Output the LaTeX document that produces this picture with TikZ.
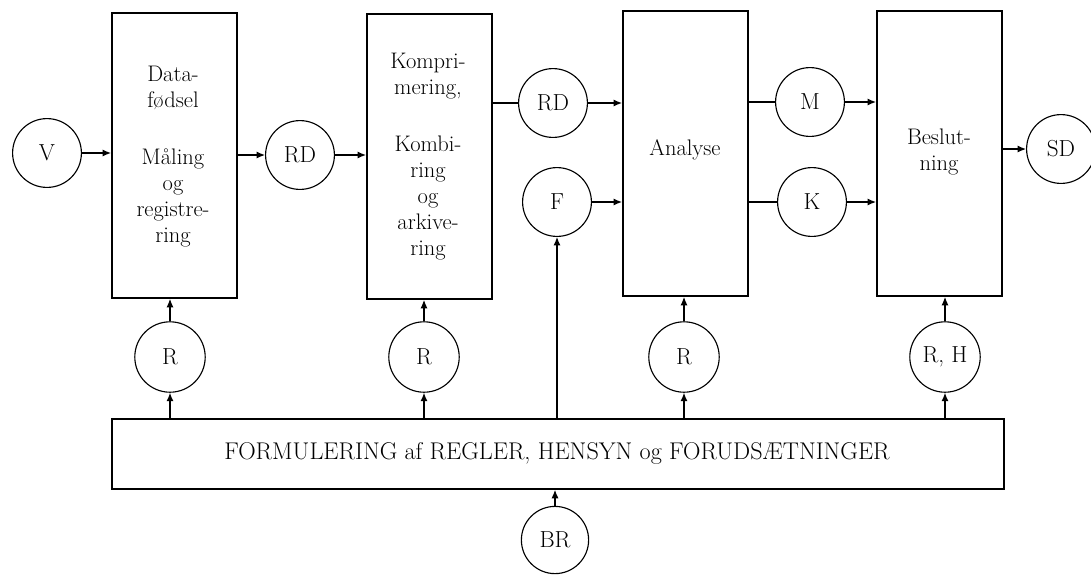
\documentclass[tikz,border=0pt]{standalone}
\usepackage{fontspec}
\usepackage{tikz}
\usetikzlibrary{arrows.meta}
\tikzstyle{stage} = [rectangle, draw=black, line width=1.3pt, minimum width=3.125cm, minimum height=7.125cm, anchor=north west]
\tikzstyle{flow} = [circle, draw=black, line width=0.8pt, minimum size=1.72cm, inner sep=0pt, font=\fontsize{16.5}{18}\selectfont]
\tikzstyle{txt} = [align=center, inner sep=0pt, font=\fontsize{16}{18.5}\selectfont]
\tikzstyle{arr} = [line width=0.8pt, -{Latex[length=6pt,width=5pt]}]
\tikzstyle{ln} = [line width=0.8pt]

\begin{document}
\begin{tikzpicture}[x=0.025cm, y=-0.025cm]

        \useasboundingbox (0,0) rectangle (1091,574);

        % stages
        \node (datafoedsel) [stage] at (111,12) {};
        \node (komprimering) [stage] at (366,13) {};
        \node (analyse) [stage] at (622,10) {};
        \node (beslutning) [stage] at (876,10) {};
        \node (regler) [stage, minimum width=22.3cm, minimum height=1.75cm] at (111,418) {};

        \node (t1a) [txt] at (173,88) {Data-\\fødsel};
        \node (t1b) [txt] at (173,198) {Måling\\og\\registre-\\ring};
        \node (t2a) [txt] at (428,76) {Kompri-\\mering,};
        \node (t2b) [txt] at (428,198) {Kombi-\\ring\\og\\arkive-\\ring};
        \node (t3) [txt] at (685,150) {Analyse};
        \node (t4) [txt] at (939,152) {Beslut-\\ning};
        \node (t5) [txt, font=\fontsize{17.2}{19}\selectfont] at (557,453) {FORMULERING af REGLER, HENSYN og FORUDSÆTNINGER};

        % data circles
        \node (v) [flow] at (47,153) {V};
        \node (rd1) [flow] at (300,155) {RD};
        \node (rd2) [flow] at (553,103) {RD};
        \node (f) [flow] at (557,202) {F};
        \node (m) [flow] at (810,102) {M};
        \node (k) [flow] at (812,202) {K};
        \node (sd) [flow] at (1061,149) {SD};

        % rule circles
        \node (r1) [flow, minimum size=1.76cm] at (170,357) {R};
        \node (r2) [flow, minimum size=1.76cm] at (424,357) {R};
        \node (r3) [flow, minimum size=1.76cm] at (684,357) {R};
        \node (r4) [flow, minimum size=1.76cm] at (945,357) {R, H};
        \node (br) [flow, minimum size=1.68cm] at (555,540) {BR};

        % horizontal flow
        \draw [arr] (v.east) -- (v.east -| datafoedsel.west);
        \draw [arr] (datafoedsel.east |- rd1) -- (rd1.west);
        \draw [arr] (rd1.east) -- (rd1.east -| komprimering.west);
        \draw [ln] (komprimering.east |- rd2) -- (rd2.west);
        \draw [arr] (rd2.east) -- (rd2.east -| analyse.west);
        \draw [arr] (f.east) -- (f.east -| analyse.west);
        \draw [ln] (analyse.east |- m) -- (m.west);
        \draw [arr] (m.east) -- (m.east -| beslutning.west);
        \draw [ln] (analyse.east |- k) -- (k.west);
        \draw [arr] (k.east) -- (k.east -| beslutning.west);
        \draw [arr] (beslutning.east |- sd) -- (sd.west);

        % vertical flow
        \foreach \r/\s in {r1/datafoedsel, r2/komprimering, r3/analyse, r4/beslutning} {
            \draw [arr] (\r.south |- regler.north) -- (\r.south);
            \draw [arr] (\r.north) -- (\r.north |- \s.south);
        }
        \draw [arr] (f.south |- regler.north) -- (f.south);
        \draw [arr] (br.north) -- (br.north |- regler.south);

    \end{tikzpicture}
\end{document}
